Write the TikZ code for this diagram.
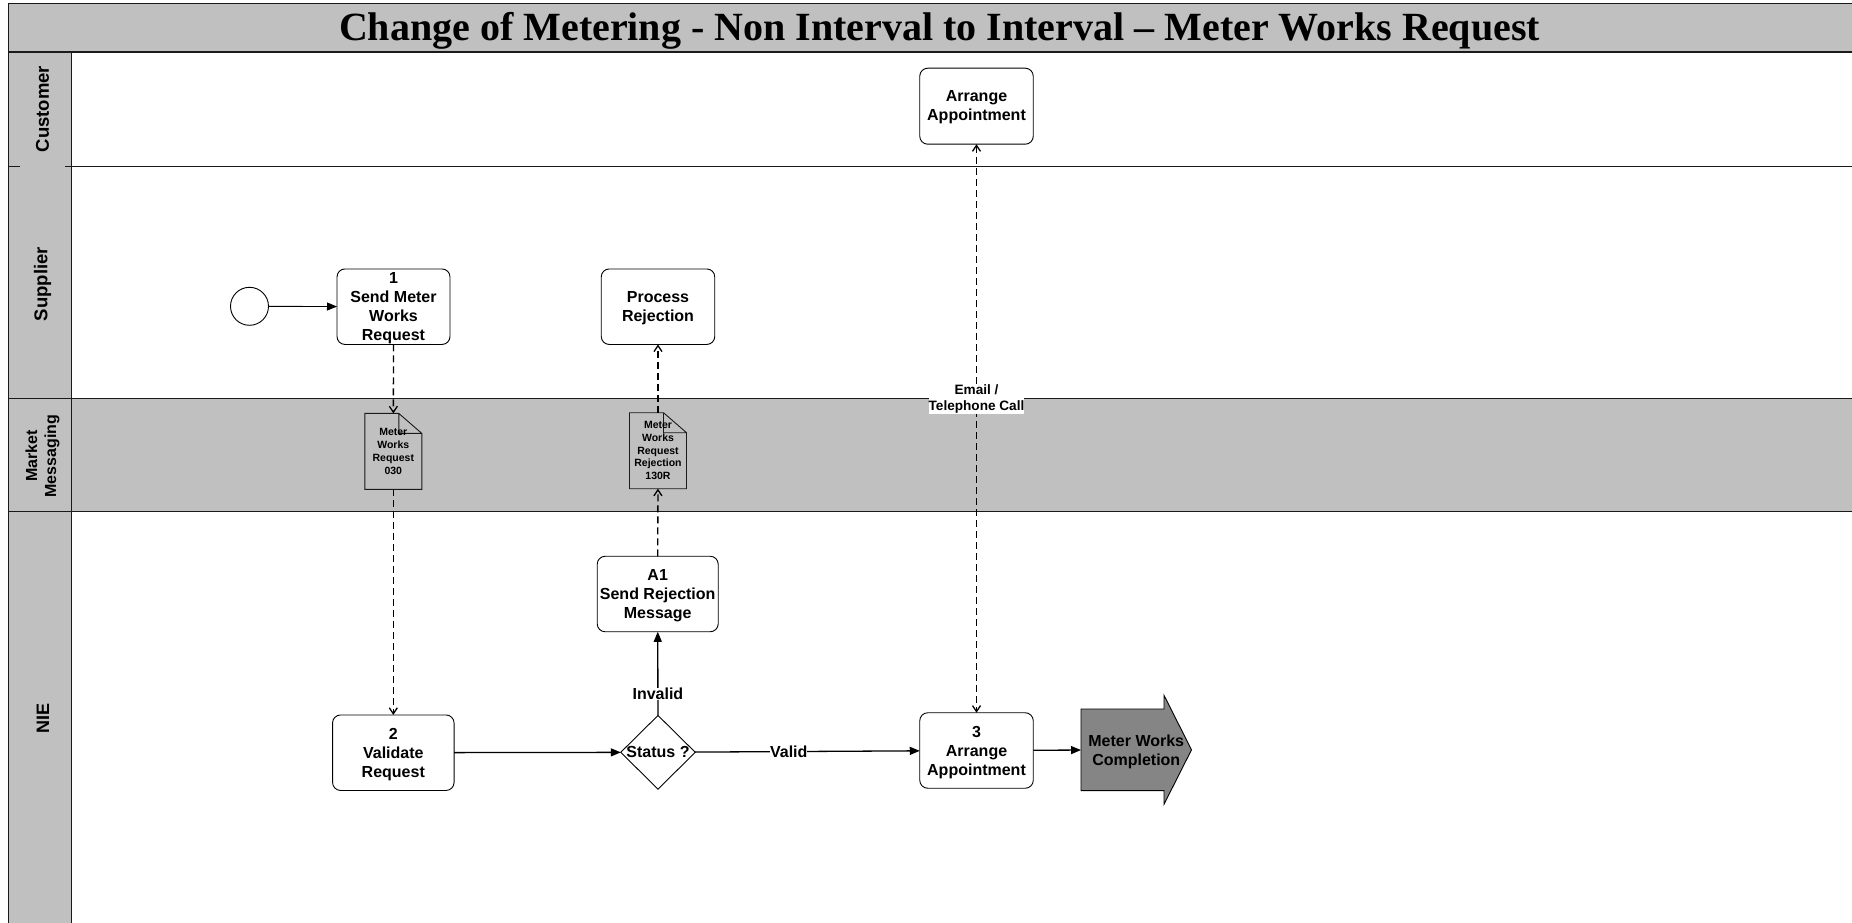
\documentclass[tikz,border=0pt]{standalone}
\usepackage{fontspec}
\setmainfont{Liberation Sans}
\newfontfamily\titlefont{Liberation Serif}
\usetikzlibrary{arrows.meta,shapes.geometric}
\definecolor{lanegray}{HTML}{C0C0C0}
\definecolor{endgray}{HTML}{858585}
\definecolor{inkdark}{HTML}{1A1A1A}
\makeatletter
\pgfdeclareshape{foldnote}{
  \inheritsavedanchors[from=rectangle]
  \inheritanchorborder[from=rectangle]
  \inheritanchor[from=rectangle]{center}
  \inheritanchor[from=rectangle]{text}
  \inheritanchor[from=rectangle]{north}
  \inheritanchor[from=rectangle]{south}
  \inheritanchor[from=rectangle]{east}
  \inheritanchor[from=rectangle]{west}
  \backgroundpath{
    \southwest \pgf@xa=\pgf@x \pgf@ya=\pgf@y
    \northeast \pgf@xb=\pgf@x \pgf@yb=\pgf@y
    \pgfpathmoveto{\pgfqpoint{\pgf@xa}{\pgf@ya}}
    \pgfpathlineto{\pgfqpoint{\pgf@xa}{\pgf@yb}}
    \pgfpathlineto{\pgfqpoint{\dimexpr\pgf@xb-23pt}{\pgf@yb}}
    \pgfpathlineto{\pgfqpoint{\pgf@xb}{\dimexpr\pgf@yb-20pt}}
    \pgfpathlineto{\pgfqpoint{\pgf@xb}{\pgf@ya}}
    \pgfpathclose
    \pgfpathmoveto{\pgfqpoint{\dimexpr\pgf@xb-23pt}{\pgf@yb}}
    \pgfpathlineto{\pgfqpoint{\dimexpr\pgf@xb-23pt}{\dimexpr\pgf@yb-20pt}}
    \pgfpathlineto{\pgfqpoint{\pgf@xb}{\dimexpr\pgf@yb-20pt}}
  }
}
\pgfdeclareshape{endarrow}{
  \inheritsavedanchors[from=rectangle]
  \inheritanchorborder[from=rectangle]
  \inheritanchor[from=rectangle]{center}
  \inheritanchor[from=rectangle]{text}
  \inheritanchor[from=rectangle]{north}
  \inheritanchor[from=rectangle]{south}
  \inheritanchor[from=rectangle]{east}
  \inheritanchor[from=rectangle]{west}
  \backgroundpath{
    \southwest \pgf@xa=\pgf@x \pgf@ya=\pgf@y
    \northeast \pgf@xb=\pgf@x \pgf@yb=\pgf@y
    \pgfmathsetlength\pgf@yc{0.5*(\pgf@ya+\pgf@yb)}
    \pgfpathmoveto{\pgfqpoint{\pgf@xa}{\dimexpr\pgf@ya+13.7pt}}
    \pgfpathlineto{\pgfqpoint{\pgf@xa}{\dimexpr\pgf@yb-13.7pt}}
    \pgfpathlineto{\pgfqpoint{\dimexpr\pgf@xb-27.5pt}{\dimexpr\pgf@yb-13.7pt}}
    \pgfpathlineto{\pgfqpoint{\dimexpr\pgf@xb-27.5pt}{\pgf@yb}}
    \pgfpathlineto{\pgfqpoint{\pgf@xb}{\pgf@yc}}
    \pgfpathlineto{\pgfqpoint{\dimexpr\pgf@xb-27.5pt}{\pgf@ya}}
    \pgfpathlineto{\pgfqpoint{\dimexpr\pgf@xb-27.5pt}{\dimexpr\pgf@ya+13.7pt}}
    \pgfpathclose
  }
}
\makeatother
\tikzset{
  x=1pt,y=-1pt,
  every node/.style={font=\bfseries\fontsize{16}{19}\selectfont,align=center,inner sep=0pt,outer sep=0pt,text=black},
  laneline/.style={draw=inkdark,line width=1.3pt},
  lanelabel/.style={rotate=90},
  taskbox/.style={draw=black,fill=white,rounded corners=8pt,line width=0.9pt,minimum height=75.5pt,text depth=0pt},
  docnode/.style={shape=foldnote,draw=inkdark,fill=lanegray,line width=0.9pt,minimum width=57pt,minimum height=76pt,font=\bfseries\fontsize{10.5}{12.7}\selectfont},
  flow/.style={draw=black,line width=1.3pt,-{Triangle[length=10pt,width=8pt]}},
  msg/.style={draw=black,line width=1.3pt,dash pattern=on 7pt off 4pt,-{Straight Barb[length=6pt,width=8pt]}},
  msgboth/.style={draw=black,line width=1.3pt,dash pattern=on 7pt off 4pt,{Straight Barb[length=6pt,width=8pt]}-{Straight Barb[length=6pt,width=8pt]}},
  linklabel/.style={fill=white}
}
\begin{document}
\begin{tikzpicture}
\useasboundingbox (0,0) rectangle (1852,923);
% lanes
\path[fill=white] (0,0) rectangle (1852,923);
\path[fill=lanegray] (71.3,398.7) rectangle (1852,511.7);
\path[fill=lanegray] (8.7,3.7) rectangle (1852,52);
\path[fill=lanegray] (8.7,52) rectangle (71.3,923);
\draw[laneline] (1852,3.7) -- (8.7,3.7) -- (8.7,923);
\draw[laneline] (8.7,52) -- (1852,52);
\draw[laneline] (71.3,52) -- (71.3,923);
\draw[laneline] (8.7,166.3) -- (20,166.3);
\draw[laneline] (65,166.3) -- (1852,166.3);
\draw[laneline] (8.7,398.7) -- (1852,398.7);
\draw[laneline] (8.7,511.7) -- (1852,511.7);
\node[font=\titlefont\bfseries\fontsize{40}{44}\selectfont] (title) at (939.5,30.5) {Change of Metering - Non Interval to Interval – Meter Works Request};
\node[lanelabel,font=\bfseries\fontsize{18.5}{20}\selectfont] (customer) at (42.5,109) {Customer};
\node[lanelabel,font=\bfseries\fontsize{18.5}{20}\selectfont] (supplier) at (42.5,284) {Supplier};
\node[lanelabel] (market) at (42.5,456) {Market\\Messaging};
\node[lanelabel,font=\bfseries\fontsize{18}{20}\selectfont] (nie) at (43,718) {NIE};
% tasks
\node[draw=black,fill=white,circle,line width=0.9pt,minimum size=38pt] (start) at (249.5,306.3) {};
\node[taskbox,minimum width=113pt] (send) at (393.5,306.7) {1\\Send Meter\\Works\\Request};
\node[taskbox,minimum width=113.5pt] (process) at (658,306.7) {Process\\Rejection};
\node[taskbox,minimum width=121pt] (reject) at (657.7,594) {A1\\Send Rejection\\Message};
\node[taskbox,minimum width=121.5pt] (validate) at (393.3,752.7) {2\\Validate\\Request};
\node[taskbox,minimum width=113.5pt,minimum height=76pt,text depth=1.7pt] (custappt) at (976.5,106.2) {Arrange\\Appointment};
\node[taskbox,minimum width=113.5pt] (nieappt) at (976.5,750.5) {3\\Arrange\\Appointment};
\node[shape=diamond,draw=black,fill=white,line width=0.9pt,minimum width=74.5pt,minimum height=73.7pt] (status) at (658,752.3) {\makebox[0pt][c]{\raisebox{-1pt}{Status ?}}};
\node[shape=endarrow,draw=black,fill=endgray,line width=0.9pt,minimum width=110.5pt,minimum height=109pt,text depth=0pt] (completion) at (1136.25,749.8) {Meter Works\\Completion};
\node[docnode] (doca) at (393.3,451.4) {Meter\\Works\\Request\\030};
\node[docnode] (docb) at (658,450.7) {Meter\\Works\\Request\\Rejection\\130R};
% connectors
\draw[flow,line width=0.9pt] (start) -- (send);
\draw[msg] (send) -- (doca);
\draw[msg] (doca) -- (validate);
\draw[flow] (validate) -- (status);
\draw[flow] (status) -- node[linklabel,pos=0.417] (validlabel) {Valid} (nieappt);
\draw[flow] (nieappt) -- (completion);
\draw[flow] (status) -- node[linklabel,pos=0.257] (invalidlabel) {Invalid} (reject);
\draw[msg] (reject) -- (docb);
\draw[msg] (docb) -- (process);
\draw[msgboth] (custappt) -- node[linklabel,pos=0.448,font=\bfseries\fontsize{13.6}{16.7}\selectfont] (calllabel) {Email /\\Telephone Call} (nieappt);
\end{tikzpicture}
\end{document}
